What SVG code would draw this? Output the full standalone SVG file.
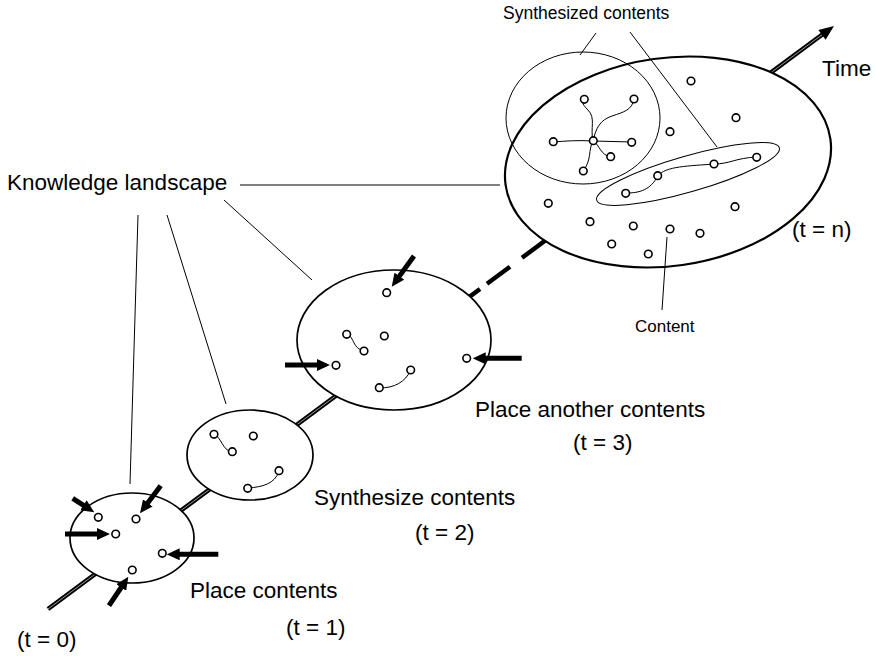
<svg xmlns="http://www.w3.org/2000/svg" width="875" height="656" viewBox="0 0 875 656">
<style>
text{font-family:"Liberation Sans",Arial,sans-serif;fill:#000}
.lbl{font-size:22.5px}
.sm{font-size:17.5px}
.land{fill:#fff;stroke:#000;stroke-width:1.7}
.thin{fill:none;stroke:#000;stroke-width:1}
.lead{stroke:#000;stroke-width:1;fill:none}
.node{fill:#fff;stroke:#000;stroke-width:1.6}
.wire{fill:none;stroke:#000;stroke-width:1}
.axo{stroke:#000;stroke-width:4.5;fill:none}
.axi{stroke:#999;stroke-width:1;fill:none}
.put{stroke:#000;stroke-width:5;fill:none;marker-end:url(#ah)}
</style>
<defs>
<marker id="ah" markerUnits="userSpaceOnUse" markerWidth="13" markerHeight="12" viewBox="0 0 13 12" refX="3" refY="6" orient="auto">
<path d="M0,0 L13,6 L0,12 z" fill="#000"/>
</marker>
</defs>
<g id="connectors">
<line class="axo" x1="48" y1="609" x2="470" y2="296.5"/>
<line class="axi" x1="48" y1="609" x2="470" y2="296.5"/>
<g id="dashed-axis">
<line class="axo" x1="466" y1="299.4" x2="480" y2="289"/>
<line class="axo" x1="487" y1="283.8" x2="510" y2="266.7"/>
<line class="axo" x1="522" y1="257.8" x2="550" y2="237"/>
</g>
<line class="axo" x1="700" y1="125" x2="824" y2="33.3"/>
<line class="axi" x1="700" y1="125" x2="824" y2="33.3"/>
<polygon points="834,26 825.6,39.7 818.4,30.1" fill="#000"/>
</g>
<g id="t1">
<ellipse class="land" cx="132" cy="538" rx="62" ry="45"/>
</g>
<g id="t2">
<ellipse class="land" cx="250" cy="455" rx="63" ry="45"/>
</g>
<g id="t3">
<ellipse class="land" cx="394" cy="340" rx="97" ry="70"/>
</g>
<g id="tn">
<ellipse class="land" cx="668" cy="162" rx="164" ry="104" transform="rotate(-8 668 162)" style="stroke-width:2.2"/>
<ellipse id="synth-star" class="thin" cx="583" cy="118" rx="77" ry="66"/>
<ellipse id="synth-chain" class="thin" cx="688" cy="174" rx="95" ry="18" transform="rotate(-16 688 174)"/>
</g>
<g id="wires">
<path class="wire" d="M347,334 C355,338 352,348 364,351"/>
<path class="wire" d="M379,388 C395,388 405,382 411,370"/>
<path class="wire" d="M214,434 C222,438 222,450 232,452"/>
<path class="wire" d="M248,488 C262,487 275,484 279,471"/>
<path class="wire" d="M593,141 C590,128 596,118 588,110 S584,103 584,99"/>
<path class="wire" d="M593,141 C596,128 600,120 612,116 S632,110 634,99"/>
<path class="wire" d="M553,142 C565,141 580,140 593,141"/>
<path class="wire" d="M593,141 L632,142"/>
<path class="wire" d="M593,141 C600,145 600,155 611,157"/>
<path class="wire" d="M593,141 C588,150 592,160 583,171"/>
<path class="wire" d="M626,193 C640,193 650,190 658,176"/>
<path class="wire" d="M658,176 C665,166 690,166 714,164"/>
<path class="wire" d="M714,164 C730,164 735,158 757,157"/>
</g>
<g id="contents">
<circle class="node" cx="98.3" cy="517.3" r="3.8"/>
<circle class="node" cx="136" cy="519" r="3.8"/>
<circle class="node" cx="115.7" cy="534" r="3.8"/>
<circle class="node" cx="162.3" cy="553.3" r="3.8"/>
<circle class="node" cx="132.3" cy="570" r="3.8"/>
<circle class="node" cx="214" cy="434.3" r="3.8"/>
<circle class="node" cx="253.3" cy="436" r="3.8"/>
<circle class="node" cx="232.3" cy="451.7" r="3.8"/>
<circle class="node" cx="279" cy="470.7" r="3.8"/>
<circle class="node" cx="247.7" cy="488.3" r="3.8"/>
<circle class="node" cx="386.7" cy="292.7" r="3.8"/>
<circle class="node" cx="346.7" cy="334.3" r="3.8"/>
<circle class="node" cx="384.3" cy="336" r="3.8"/>
<circle class="node" cx="364" cy="351" r="3.8"/>
<circle class="node" cx="336" cy="365.3" r="3.8"/>
<circle class="node" cx="466.7" cy="358.3" r="3.8"/>
<circle class="node" cx="410.7" cy="370" r="3.8"/>
<circle class="node" cx="379.3" cy="387.7" r="3.8"/>
<circle class="node" cx="593.3" cy="140.7" r="3.8"/>
<circle class="node" cx="584.3" cy="99.3" r="3.8"/>
<circle class="node" cx="634" cy="99" r="3.8"/>
<circle class="node" cx="553.3" cy="141.7" r="3.8"/>
<circle class="node" cx="631.7" cy="142.3" r="3.8"/>
<circle class="node" cx="610.7" cy="156.7" r="3.8"/>
<circle class="node" cx="583.3" cy="171" r="3.8"/>
<circle class="node" cx="691" cy="81" r="3.8"/>
<circle class="node" cx="736" cy="117.7" r="3.8"/>
<circle class="node" cx="670" cy="131.7" r="3.8"/>
<circle class="node" cx="714" cy="164" r="3.8"/>
<circle class="node" cx="756.7" cy="157.3" r="3.8"/>
<circle class="node" cx="657.7" cy="175.7" r="3.8"/>
<circle class="node" cx="625.7" cy="193.3" r="3.8"/>
<circle class="node" cx="548.3" cy="203.3" r="3.8"/>
<circle class="node" cx="735" cy="206.7" r="3.8"/>
<circle class="node" cx="590" cy="221.7" r="3.8"/>
<circle class="node" cx="633.3" cy="226" r="3.8"/>
<circle class="node" cx="670" cy="229" r="3.8"/>
<circle class="node" cx="700" cy="233.3" r="3.8"/>
<circle class="node" cx="611.7" cy="244" r="3.8"/>
<circle class="node" cx="648.3" cy="254" r="3.8"/>
</g>
<g id="placement-arrows">
<line class="put" x1="72.7" y1="498.3" x2="85.9" y2="506.9"/>
<line class="put" x1="160.7" y1="485.7" x2="146" y2="505.3"/>
<line class="put" x1="65" y1="534" x2="100" y2="534"/>
<line class="put" x1="218.3" y1="554.3" x2="176.7" y2="554.3"/>
<line class="put" x1="109" y1="605.7" x2="122.8" y2="585"/>
<line class="put" x1="414" y1="256" x2="397.6" y2="278.6"/>
<line class="put" x1="285" y1="365" x2="320" y2="365"/>
<line class="put" x1="521.7" y1="358.3" x2="482.7" y2="358.3"/>
</g>
<g id="leaders">
<line class="lead" x1="240" y1="185" x2="500" y2="185"/>
<line class="lead" x1="138" y1="215" x2="130" y2="484"/>
<line class="lead" x1="167" y1="215" x2="226" y2="404"/>
<line class="lead" x1="224" y1="200" x2="312" y2="280"/>
<line class="lead" x1="596" y1="33" x2="580" y2="55"/>
<line class="lead" x1="630" y1="32" x2="717" y2="147"/>
<line class="lead" x1="667" y1="237" x2="662" y2="310"/>
</g>
<g id="labels">
<text class="lbl" x="7" y="190">Knowledge landscape</text>
<text class="lbl" x="822" y="76">Time</text>
<text class="lbl" x="792" y="237">(t = n)</text>
<text class="sm" x="503" y="19">Synthesized contents</text>
<text class="sm" x="635" y="332" style="font-size:17px">Content</text>
<text class="lbl" x="475" y="417">Place another contents</text>
<text class="lbl" x="573" y="450">(t = 3)</text>
<text class="lbl" x="314" y="505">Synthesize contents</text>
<text class="lbl" x="415" y="540">(t = 2)</text>
<text class="lbl" x="190" y="598">Place contents</text>
<text class="lbl" x="286" y="635">(t = 1)</text>
<text class="lbl" x="17" y="647">(t = 0)</text>
</g>
</svg>
